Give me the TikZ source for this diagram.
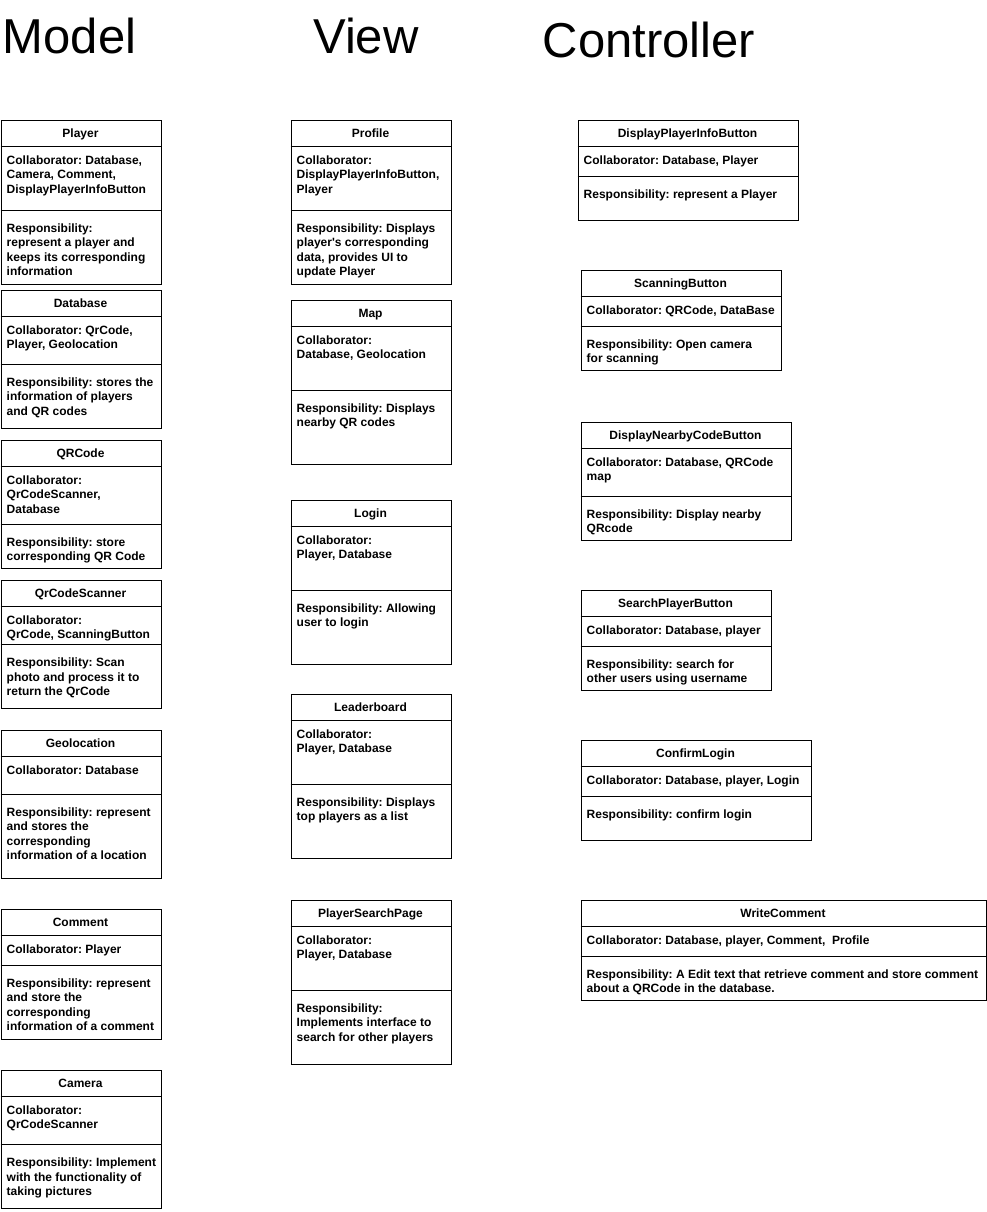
\documentclass[tikz,border=0pt]{standalone}
\usepackage{fontspec}
\setmainfont{Liberation Sans}
\newfontfamily\crcfont{Liberation Sans}
\frenchspacing
\tikzset{
  crcframe/.style={draw, anchor=north west, inner sep=0pt, line width=1pt},
  crcline/.style={line width=1pt},
  crctitle/.style={anchor=base, inner sep=0pt, font=\crcfont\bfseries\fontsize{12}{14.4}\selectfont},
  crctext/.style={anchor=north west, inner sep=0pt, align=left, font=\crcfont\bfseries\fontsize{12}{14.4}\selectfont},
  heading/.style={anchor=base west, inner sep=0pt, font=\fontsize{49}{58.8}\selectfont}
}
\newcommand{\crcstrut}{\rule{0pt}{10.8pt}}
% #1 name, #2 x, #3 width, #4 top, #5 divider, #6 bottom, #7 title, #8 collaborators, #9 responsibility
\newcommand{\crcbox}[9]{%
  \node[crcframe, minimum width=#3pt, minimum height={(#6-#4)*1pt}] (#1) at (#2,#4) {};
  \draw[crcline] (#2,#4+26) -- (#2+#3,#4+26);
  \draw[crcline] (#2,#5) -- (#2+#3,#5);
  \node[crctitle] (#1-title) at (#2+#3/2,#4+17.8) {#7};
  \node[crctext] (#1-collab) at (#2+6,#4+33.3) {\crcstrut #8};
  \node[crctext] (#1-resp) at (#2+6,#5+11.3) {\crcstrut #9};
}
\begin{document}
\begin{tikzpicture}[x=1pt,y=-1pt]
\useasboundingbox (0,0) rectangle (987,1212);

\node[heading] (model) at (2.5,54) {Model};
\node[heading] (view) at (313,54) {View};
\node[heading] (controller) at (542.5,58) {Controller};

% Model
\crcbox{player}{0.5}{160}{120}{210}{284}{Player}
  {Collaborator: Database,\\Camera, Comment,\\DisplayPlayerInfoButton}
  {Responsibility:\\represent a player and\\keeps its corresponding\\information}
\crcbox{database}{0.5}{160}{290}{364}{428}{Database}
  {Collaborator: QrCode,\\Player, Geolocation}
  {Responsibility: stores the\\information of players\\and QR codes}
\crcbox{qrcode}{0.5}{160}{440}{524}{568}{QRCode}
  {Collaborator:\\QrCodeScanner,\\Database}
  {Responsibility: store\\corresponding QR Code}
\crcbox{qrscanner}{0.5}{160}{580}{644.5}{708}{QrCodeScanner}
  {Collaborator:\\QrCode, ScanningButton}
  {Responsibility: Scan\\photo and process it to\\return the QrCode}
\crcbox{geolocation}{0.5}{160}{730}{794}{878}{Geolocation}
  {Collaborator: Database}
  {Responsibility: represent\\and stores the\\corresponding\\information of a location}
\crcbox{comment}{0.5}{160}{909}{965}{1039}{Comment}
  {Collaborator: Player}
  {Responsibility: represent\\and store the\\corresponding\\information of a comment}
\crcbox{camera}{0.5}{160}{1070}{1144.5}{1208}{Camera}
  {Collaborator:\\QrCodeScanner}
  {Responsibility: Implement\\with the functionality of\\taking pictures}

% View
\crcbox{profile}{290.5}{160}{120}{210}{284}{Profile}
  {Collaborator:\\DisplayPlayerInfoButton,\\Player}
  {Responsibility: Displays\\player's corresponding\\data, provides UI to\\update Player}
\crcbox{map}{290.5}{160}{300}{390}{464}{Map}
  {Collaborator:\\Database, Geolocation}
  {Responsibility: Displays\\nearby QR codes}
\crcbox{login}{290.5}{160}{500}{590}{664}{Login}
  {Collaborator:\\Player, Database}
  {Responsibility: Allowing\\user to login}
\crcbox{leaderboard}{290.5}{160}{694}{784}{858}{Leaderboard}
  {Collaborator:\\Player, Database}
  {Responsibility: Displays\\top players as a list}
\crcbox{playersearch}{290.5}{160}{900}{990}{1064}{PlayerSearchPage}
  {Collaborator:\\Player, Database}
  {Responsibility:\\Implements interface to\\search for other players}

% Controller
\crcbox{dpib}{577.5}{220}{120}{176}{220}{DisplayPlayerInfoButton}
  {Collaborator: Database, Player}
  {Responsibility: represent a Player}
\crcbox{scanbtn}{580.5}{200}{270}{326}{370}{ScanningButton}
  {Collaborator: QRCode, DataBase}
  {Responsibility: Open camera\\for scanning}
\crcbox{dncb}{580.5}{210}{422}{496}{540}{DisplayNearbyCodeButton}
  {Collaborator: Database, QRCode\\map}
  {Responsibility: Display nearby\\QRcode}
\crcbox{spb}{580.5}{190}{590}{646}{690}{SearchPlayerButton}
  {Collaborator: Database, player}
  {Responsibility: search for\\other users using username}
\crcbox{confirm}{580.5}{230}{740}{796}{840}{ConfirmLogin}
  {Collaborator: Database, player, Login}
  {Responsibility: confirm login}
\crcbox{writecomment}{580.5}{405}{900}{956}{1000}{WriteComment}
  {Collaborator: Database, player, Comment,\ \ Profile}
  {Responsibility: A Edit text that retrieve comment and store comment\\about a QRCode in the database.}
\end{tikzpicture}
\end{document}
